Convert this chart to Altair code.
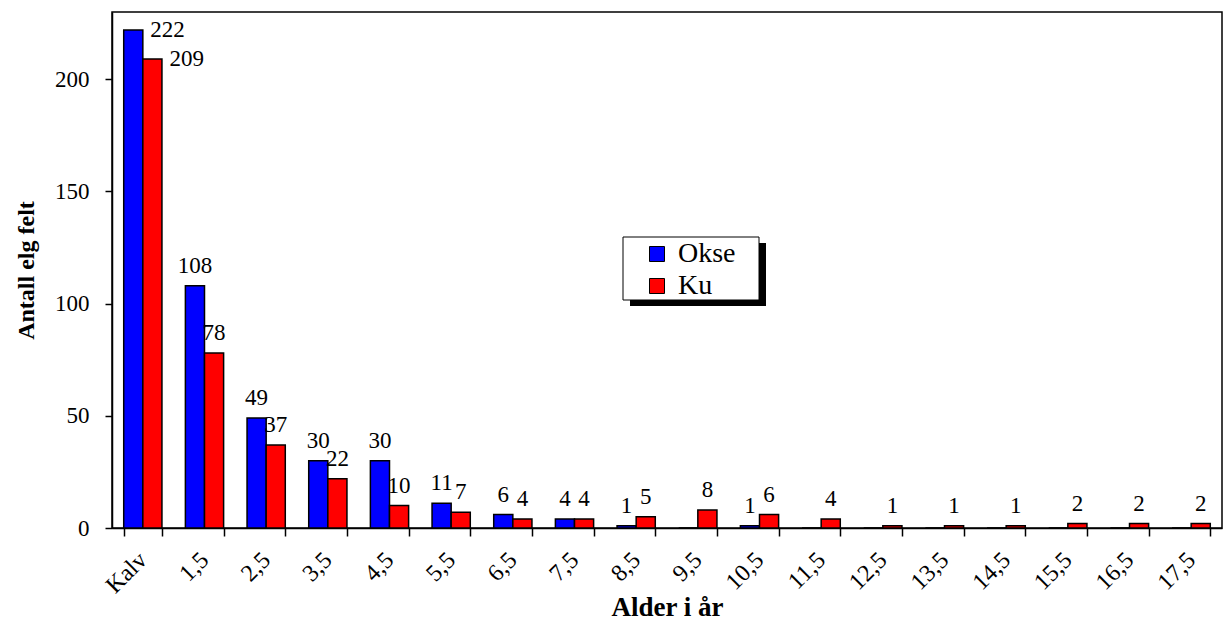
import altair as alt
import pandas as pd

categories = ["Kalv", "1,5", "2,5", "3,5", "4,5", "5,5", "6,5", "7,5", "8,5",
              "9,5", "10,5", "11,5", "12,5", "13,5", "14,5", "15,5", "16,5", "17,5"]
okse = [222, 108, 49, 30, 30, 11, 6, 4, 1, 0, 1, 0, 0, 0, 0, 0, 0, 0]
ku = [209, 78, 37, 22, 10, 7, 4, 4, 5, 8, 6, 4, 1, 1, 1, 2, 2, 2]
series = ["Okse", "Ku"]
colors = ["#0000FF", "#FF0000"]

rows = []
for i, c in enumerate(categories):
    rows.append({"Alder": c, "Kjonn": "Okse", "Antall": okse[i]})
    rows.append({"Alder": c, "Kjonn": "Ku", "Antall": ku[i]})
df = pd.DataFrame(rows)

FONT = "Liberation Serif"

x_enc = alt.X("Alder:N", sort=categories,
              scale=alt.Scale(paddingInner=0.38, paddingOuter=0.19),
              axis=alt.Axis(title="Alder i år", labelAngle=-45, labelAlign="right",
                            labelBaseline="middle", tickBand="extent", tickSize=8,
                            labelPadding=20, titlePadding=-3, labelFontSize=24,
                            titleFontSize=27))
y_enc = alt.Y("Antall:Q", scale=alt.Scale(domain=[0, 230], nice=False),
              axis=alt.Axis(title="Antall elg felt", values=[0, 50, 100, 150, 200],
                            tickSize=7, labelPadding=16, titlePadding=16,
                            labelFontSize=23, titleFontSize=24, grid=False))
xoff = alt.XOffset("Kjonn:N", sort=series, scale=alt.Scale(domain=series))

bars = alt.Chart(df).mark_bar(stroke="black", strokeWidth=1.5).encode(
    x=x_enc, y=y_enc, xOffset=xoff,
    color=alt.Color("Kjonn:N", sort=series,
                    scale=alt.Scale(domain=series, range=colors),
                    legend=alt.Legend(title=None, orient="none", legendX=531, legendY=228,
                                      symbolType="square", symbolSize=225,
                                      symbolStrokeColor="black", symbolStrokeWidth=1,
                                      labelFont=FONT, labelFontSize=28, labelOffset=7,
                                      rowPadding=4, padding=0)),
)

labels_main = alt.Chart(df).transform_filter(
    "datum.Antall > 0 && datum.Alder != 'Kalv'"
).mark_text(font=FONT, fontSize=23, baseline="bottom", align="center", dy=-8).encode(
    x=x_enc, y=y_enc, xOffset=xoff, text="Antall:Q"
)

labels_kalv = alt.Chart(df).transform_filter(
    "datum.Alder == 'Kalv'"
).mark_text(font=FONT, fontSize=23, baseline="middle", align="left", dx=17).encode(
    x=x_enc, y=y_enc, xOffset=xoff, text="Antall:Q"
)

box_data = alt.Data(values=[{"k": 1}])
shadow = alt.Chart(box_data).mark_rect(color="black").encode(
    x=alt.value(518), x2=alt.value(654), y=alt.value(231), y2=alt.value(294)
)
box = alt.Chart(box_data).mark_rect(fill="white", stroke="black", strokeWidth=1).encode(
    x=alt.value(511), x2=alt.value(647), y=alt.value(225), y2=alt.value(288)
)

chart = alt.layer(bars, labels_main, labels_kalv, shadow, box).properties(
    width=1110, height=516,
    autosize=alt.AutoSizeParams(type="none"),
    padding={"left": 112, "top": 12, "right": 4, "bottom": 98},
    background="white",
).configure_view(
    stroke="black", strokeWidth=1.5
).configure_axis(
    labelFont=FONT, titleFont=FONT, titleFontWeight="bold",
    labelColor="black", titleColor="black", domainColor="black", tickColor="black",
    domainWidth=1.5, tickWidth=1.5
)

chart.save("out.html", embed_options={"renderer": "svg", "actions": False})
